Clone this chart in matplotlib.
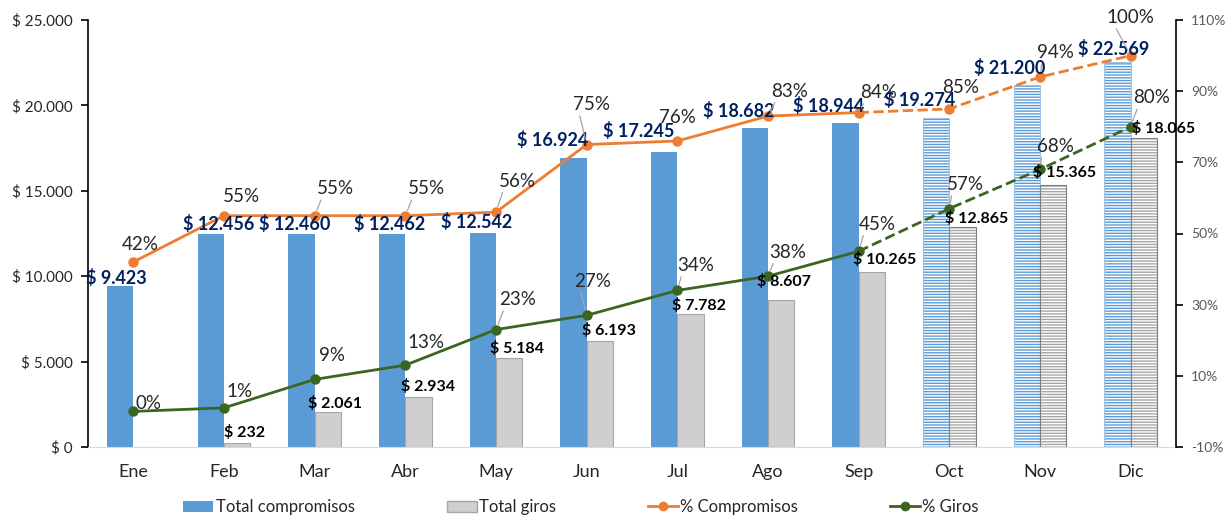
import numpy as np
import matplotlib
matplotlib.use('Agg')
import matplotlib.pyplot as plt
from matplotlib.lines import Line2D
from matplotlib.patches import Patch
from matplotlib.ticker import FuncFormatter

# data
meses = ['Ene', 'Feb', 'Mar', 'Abr', 'May', 'Jun', 'Jul', 'Ago', 'Sep', 'Oct', 'Nov', 'Dic']
total_compromisos = [9423, 12456, 12460, 12462, 12542, 16924, 17245, 18682, 18944, 19274, 21200, 22569]
total_giros = [0, 232, 2061, 2934, 5184, 6193, 7782, 8607, 10265, 12865, 15365, 18065]
pct_compromisos = [42, 55, 55, 55, 56, 75, 76, 83, 84, 85, 94, 100]
pct_giros = [0, 1, 9, 13, 23, 27, 34, 38, 45, 57, 68, 80]
n_real = 9  # Ene..Sep ejecutado, Oct..Dic proyectado

# label offsets in pixels (layout only)
off_comp = [(-4, 8), (8, 10), (-7, 10), (-3, 10), (-6, 11), (-21, 18), (-25, 21), (-16, 17), (-17, 17), (-17, 18), (-17, 17), (-4, 13)]
off_giros = [(0, 0), (7, 11), (7, 8), (10, 10), (8, 10), (9, 11), (9, 9), (3, 18), (13, 12), (14, 9), (11, 12), (20, 10)]
off_pc = [(7, 17), (17, 19), (21, 27), (21, 27), (21, 31), (5, 40), (0, 23), (22, 25), (20, 20), (11, 21), (15, 24), (0, 38)]
lead_pc = [0, 0, 1, 1, 1, 1, 0, 1, 1, 0, 1, 1]
off_pg = [(15, 8), (16, 16), (17, 24), (21, 23), (22, 30), (6, 34), (18, 25), (20, 24), (19, 27), (16, 24), (15, 23), (21, 29)]
lead_pg = [0, 0, 0, 0, 1, 1, 1, 1, 1, 1, 1, 1]

BLUE = '#5b9bd5'
GRAY = '#d0cece'
ORANGE = '#ed7d31'
GREEN = '#3b6521'
NAVY = '#002060'
TXT = '#262626'

plt.rcParams['font.family'] = ['Lato', 'DejaVu Sans']
plt.rcParams['hatch.linewidth'] = 1.0

fig = plt.figure(figsize=(12.31, 5.16), dpi=100)
ax = fig.add_axes([88/1231, 69/516, 1088/1231, 427/516])
ax2 = ax.twinx()

x = np.arange(len(meses))
w = 0.29
xb = x - w/2
xg = x + w/2

# real bars
ax.bar(xb[:n_real], total_compromisos[:n_real], w, color=BLUE, linewidth=0, zorder=2)
ax.bar(xg[:n_real], total_giros[:n_real], w, color=GRAY, edgecolor='#a6a6a6', linewidth=0.8, zorder=2)
# projected bars (hatched)
ax.bar(xb[n_real:], total_compromisos[n_real:], w, color=BLUE, edgecolor='white', hatch='------', linewidth=0, zorder=2)
ax.bar(xb[n_real:], total_compromisos[n_real:], w, fill=False, edgecolor='#9dc3e6', linewidth=0.8, zorder=2)
ax.bar(xg[n_real:], total_giros[n_real:], w, color='#a6a6a6', edgecolor='white', hatch='------', linewidth=0, zorder=2)
ax.bar(xg[n_real:], total_giros[n_real:], w, fill=False, edgecolor='#7f7f7f', linewidth=0.8, zorder=2)

ax.set_xlim(-0.5, len(meses) - 0.5)
ax.set_ylim(0, 25000)
ax.set_yticks(np.arange(0, 25001, 5000))
ax.yaxis.set_major_formatter(FuncFormatter(lambda v, p: '$ ' + f'{v:,.0f}'.replace(',', '.')))
ax.set_xticks(x)
ax.set_xticklabels(meses, fontsize=13, color=TXT)
ax.tick_params(axis='x', length=0, pad=12)
ax.tick_params(axis='y', labelsize=11, labelcolor=TXT, direction='out', length=5, width=1.2, pad=6)
ax.spines['top'].set_visible(False)
ax.spines['right'].set_visible(False)
ax.spines['left'].set_linewidth(1.2)
ax.spines['bottom'].set_color('#d9d9d9')

# lines on secondary axis
ax2.set_ylim(-10, 110)
ax2.set_yticks(np.arange(-10, 111, 20))
ax2.yaxis.set_major_formatter(FuncFormatter(lambda v, p: f'{v:.0f}%'))
ax2.tick_params(axis='y', labelsize=10, labelcolor='#595959', direction='out', length=5, width=1.2, pad=6)
for s in ['top', 'left', 'bottom']:
    ax2.spines[s].set_visible(False)
ax2.spines['right'].set_linewidth(1.2)

k = n_real
ax2.plot(x[:k], pct_compromisos[:k], color=ORANGE, lw=2, marker='o', ms=6.5, zorder=3)
ax2.plot(x[k-1:], pct_compromisos[k-1:], color=ORANGE, lw=2, ls='--', marker='o', ms=6.5, markevery=list(range(1, len(x) - k + 1)), zorder=3)
ax2.plot(x[:k], pct_giros[:k], color=GREEN, lw=2, marker='o', ms=6.5, zorder=3)
ax2.plot(x[k-1:], pct_giros[k-1:], color=GREEN, lw=2, ls='--', marker='o', ms=6.5, markevery=list(range(1, len(x) - k + 1)), zorder=3)

fmt = lambda v: '$ ' + f'{v:,.0f}'.replace(',', '.')

# value labels
for i in range(len(meses)):
    ax2.annotate(fmt(total_compromisos[i]), xy=(xb[i], total_compromisos[i]), xycoords=ax.transData,
                 xytext=off_comp[i], textcoords='offset pixels', ha='center', va='center',
                 fontsize=13, fontweight='bold', color=NAVY, zorder=5)
    if total_giros[i] > 0:
        ax2.annotate(fmt(total_giros[i]), xy=(xg[i], total_giros[i]), xycoords=ax.transData,
                     xytext=off_giros[i], textcoords='offset pixels', ha='center', va='center',
                     fontsize=11.5, fontweight='bold', color='black', zorder=5)
    lp = dict(arrowstyle='-', color='#a6a6a6', lw=0.9, shrinkA=0, shrinkB=4, relpos=(0.15, 0.1)) if lead_pc[i] else None
    ax2.annotate(f'{pct_compromisos[i]}%', xy=(x[i], pct_compromisos[i]), xytext=off_pc[i],
                 textcoords='offset pixels', ha='center', va='center', fontsize=13.5, color=TXT,
                 arrowprops=lp, zorder=5)
    lg = dict(arrowstyle='-', color='#a6a6a6', lw=0.9, shrinkA=0, shrinkB=4, relpos=(0.15, 0.1)) if lead_pg[i] else None
    ax2.annotate(f'{pct_giros[i]}%', xy=(x[i], pct_giros[i]), xytext=off_pg[i],
                 textcoords='offset pixels', ha='center', va='center', fontsize=13.5, color=TXT,
                 arrowprops=lg, zorder=5)

handles = [
    Patch(facecolor=BLUE, edgecolor='none'),
    Patch(facecolor=GRAY, edgecolor='#a6a6a6'),
    Line2D([], [], color=ORANGE, lw=2, marker='o', ms=6),
    Line2D([], [], color=GREEN, lw=2, marker='o', ms=6),
]
labels = ['Total compromisos', 'Total giros', '% Compromisos', '% Giros']
fig.legend(handles, labels, loc='center', bbox_to_anchor=(0.472, 0.017), ncol=4, frameon=False,
           fontsize=12, handlelength=1.8, handletextpad=0.15, columnspacing=5.5, labelcolor=TXT)

plt.savefig('out.png', dpi=100)
